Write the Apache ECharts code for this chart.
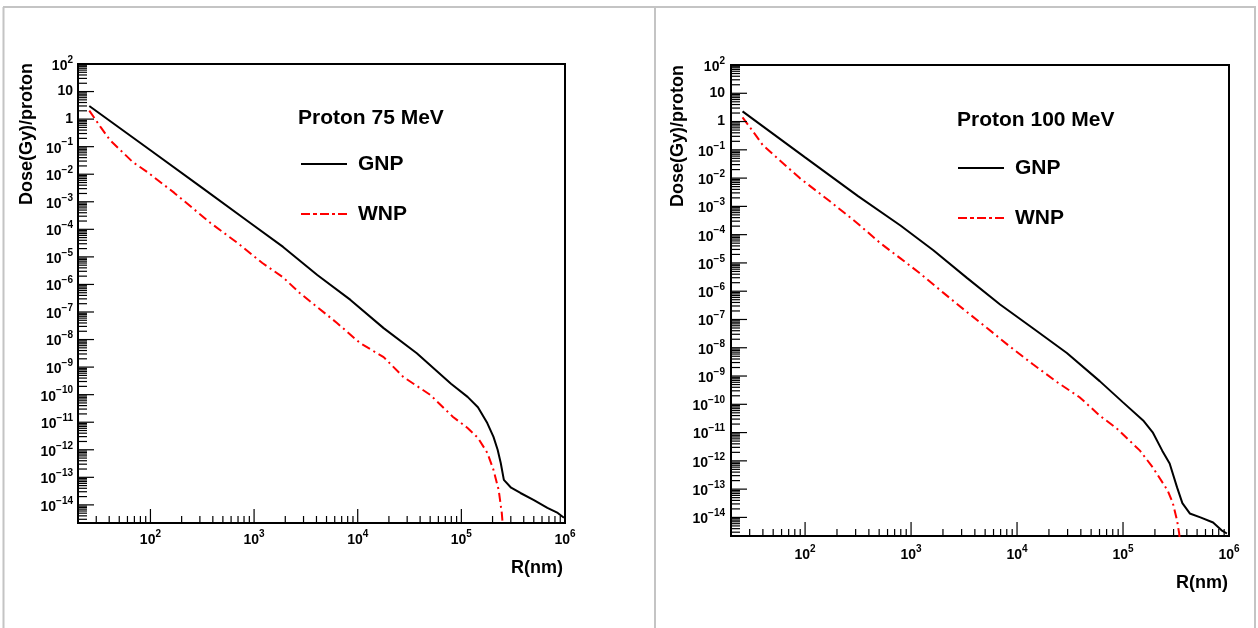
<!DOCTYPE html>
<html><head><meta charset="utf-8">
<script src="https://cdn.jsdelivr.net/npm/echarts@6/dist/echarts.min.js"></script>
<style>html,body{margin:0;padding:0;background:#fff}#c{width:1258px;height:628px}</style>
</head><body><div id="c"></div>
<script>
// ---------- axis ranges & tick labels ----------
const X_MIN = 20, X_MAX = 1e6;
const Y_MIN = 2.2e-15, Y_MAX = 100;
const xMajorTicks = [100, 1000, 10000, 100000, 1000000];
const yMajorTicks = [1e-14, 1e-13, 1e-12, 1e-11, 1e-10, 1e-9, 1e-8, 1e-7, 1e-6, 1e-5, 1e-4, 1e-3, 1e-2, 1e-1, 1, 10, 100];
const minorMultipliers = [2, 3, 4, 5, 6, 7, 8, 9];
const panelTitles = ['Proton 75 MeV', 'Proton 100 MeV'];
const seriesNames = ['GNP', 'WNP'];
const xAxisTitle = 'R(nm)';
const yAxisTitle = 'Dose(Gy)/proton';

// ---------- data: Proton 75 MeV ----------
const gnp75R = [25.7, 100, 316, 912, 1905, 4074, 8511, 17783, 37154, 79433, 114815, 144544, 177828, 204174, 223872, 239883, 257040, 301995, 371535, 501187, 676083, 851138, 977237];
const gnp75D = [3.0, 7.4e-2, 3.2e-3, 1.74e-4, 2.3e-5, 2.2e-6, 2.75e-7, 2.6e-8, 3.2e-9, 2.5e-10, 8.3e-11, 3.5e-11, 9.3e-12, 2.95e-12, 1.0e-12, 3.3e-13, 8.1e-14, 4.2e-14, 2.7e-14, 1.5e-14, 7.8e-15, 5.1e-15, 3.4e-15];
const wnp75R = [25.7, 33.1, 40.7, 67.6, 93.3, 170, 380, 692, 1202, 1905, 2754, 4074, 6310, 10471, 17783, 27542, 50119, 83176, 114815, 144544, 177828, 204174, 229087, 245471, 252000];
const wnp75D = [2.04, 0.51, 0.174, 2.75e-2, 1.2e-2, 2.1e-3, 1.7e-4, 3.2e-5, 6.0e-6, 1.8e-6, 4.9e-7, 1.5e-7, 4.0e-8, 7.6e-9, 2.3e-9, 4.4e-10, 9.8e-11, 1.55e-11, 6.2e-12, 2.7e-12, 7.8e-13, 1.86e-13, 3.5e-14, 5.1e-15, 1.5e-15];

// ---------- data: Proton 100 MeV ----------
const gnp100R = [25.7, 100, 316, 794, 1622, 3388, 6918, 14125, 29512, 60256, 100000, 154882, 190546, 234423, 275423, 323594, 363078, 426580, 537032, 707946, 851138, 954993];
const gnp100D = [2.29, 5.4e-2, 2.3e-3, 2.1e-4, 2.8e-5, 2.9e-6, 3.4e-7, 4.9e-8, 6.5e-9, 6.6e-10, 1.17e-10, 2.7e-11, 1.02e-11, 2.3e-12, 8.1e-13, 1.15e-13, 3.2e-14, 1.38e-14, 1.0e-14, 6.6e-15, 3.5e-15, 2.7e-15];
const wnp100R = [25.7, 32.4, 39.8, 67.6, 89.1, 174, 309, 513, 794, 1202, 1995, 3388, 5248, 8511, 14125, 23988, 38905, 60256, 87096, 144544, 190546, 263027, 295121, 323594, 338844, 346737];
const wnp100D = [1.41, 0.437, 0.148, 2.5e-2, 1.0e-2, 1.45e-3, 2.6e-4, 5.0e-5, 1.45e-5, 4.4e-6, 9.1e-7, 1.8e-7, 4.9e-8, 1.12e-8, 2.6e-9, 6.0e-10, 1.78e-10, 4.0e-11, 1.41e-11, 2.3e-12, 5.9e-13, 9.1e-14, 3.2e-14, 7.8e-15, 2.7e-15, 1.0e-15];

// ---------- build ----------
const FONT = '"Liberation Sans", Arial, Helvetica, sans-serif';
const zip = (xs, ys) => xs.map((x, i) => [x, ys[i]]);

function allTicks(majors, lo, hi) {
  const out = majors.slice();
  const decades = new Set();
  majors.forEach(m => decades.add(Math.round(Math.log10(m))));
  decades.add(Math.min(...decades) - 1);
  decades.forEach(k => minorMultipliers.forEach(m => {
    const v = m * Math.pow(10, k);
    if (v > lo * 1.0001 && v < hi * 0.9999) out.push(v);
  }));
  return out;
}
const xTicks = allTicks(xMajorTicks, X_MIN, X_MAX);
const yTicks = allTicks(yMajorTicks, Y_MIN, Y_MAX);

function powLabel(v) {
  const e = Math.log10(v), r = Math.round(e);
  if (Math.abs(e - r) > 1e-3) return '';
  if (r === 0) return '{b|1}';
  if (r === 1) return '{b|10}';
  return '{b|10}{s|' + (r < 0 ? '\u2212' + (-r) : r) + '}';
}
const labelRich = {
  b: { fontSize: 14, fontWeight: 'bold', fontFamily: FONT, fill: '#000', color: '#000', verticalAlign: 'bottom' },
  s: { fontSize: 10, fontWeight: 'bold', fontFamily: FONT, fill: '#000', color: '#000', verticalAlign: 'bottom', padding: [0, 0, 8, 0] }
};

function tickSeries(idx, axis, values) {
  return {
    type: 'custom', xAxisIndex: idx, yAxisIndex: idx, silent: true, z: 5, clip: false,
    data: values.map(v => axis === 'y' ? [X_MIN, v] : [v, Y_MIN]),
    renderItem(params, api) {
      const x = api.value(0), y = api.value(1);
      const p = api.coord([x, y]);
      const v = axis === 'y' ? y : x;
      const e = Math.log10(v);
      const major = Math.abs(e - Math.round(e)) < 1e-6;
      const len = axis === 'y' ? (major ? 16 : 9) : (major ? 14 : 7);
      const shape = axis === 'y'
        ? { x1: p[0], y1: p[1], x2: p[0] + len, y2: p[1] }
        : { x1: p[0], y1: p[1], x2: p[0], y2: p[1] - len };
      return { type: 'line', shape, style: { stroke: '#000', lineWidth: 1.2 } };
    }
  };
}

function labelSeries(idx, axis, values, gap) {
  return {
    type: 'custom', xAxisIndex: idx, yAxisIndex: idx, silent: true, z: 6, clip: false,
    data: values.map(v => axis === 'y' ? [X_MIN, v] : [v, Y_MIN]),
    renderItem(params, api) {
      const x = api.value(0), y = api.value(1);
      const p = api.coord([x, y]);
      const v = axis === 'y' ? y : x;
      return {
        type: 'text',
        x: axis === 'y' ? p[0] - gap : p[0],
        y: axis === 'y' ? p[1] : p[1] + gap,
        style: {
          text: powLabel(v), rich: labelRich, fill: '#000',
          font: 'bold 14px ' + FONT,
          align: axis === 'y' ? 'right' : 'center',
          verticalAlign: axis === 'y' ? 'middle' : 'top'
        }
      };
    }
  };
}

const grids = [
  { left: 78, top: 64, width: 487, height: 459 },
  { left: 731, top: 65, width: 498, height: 471 }
];
const labelGaps = [{ x: 6, y: 5 }, { x: 8, y: 6 }];
const panels = [
  { gnp: zip(gnp75R, gnp75D), wnp: zip(wnp75R, wnp75D) },
  { gnp: zip(gnp100R, gnp100D), wnp: zip(wnp100R, wnp100D) }
];

const solidIcon = 'path://M0,0h46v2h-46z';
const dashDotIcon = 'path://M0,0h9v2h-9zM12,0h4v2h-4zM19,0h9v2h-9zM31,0h3v2h-3zM37,0h9v2h-9z';
const titleStyle = { fontSize: 21, fontWeight: 'bold', fontFamily: FONT, color: '#000' };

const option = {
  animation: false,
  backgroundColor: '#fff',
  grid: grids.map(g => Object.assign({ show: true, borderColor: '#000', borderWidth: 2, backgroundColor: 'transparent' }, g)),
  xAxis: grids.map((g, i) => ({
    type: 'log', logBase: 10, gridIndex: i, min: X_MIN, max: X_MAX,
    axisLine: { show: false }, axisTick: { show: false }, splitLine: { show: false }, axisLabel: { show: false }
  })),
  yAxis: grids.map((g, i) => ({
    type: 'log', logBase: 10, gridIndex: i, min: Y_MIN, max: Y_MAX,
    axisLine: { show: false }, axisTick: { show: false }, splitLine: { show: false }, axisLabel: { show: false }
  })),
  title: [
    { text: panelTitles[0], left: 298, top: 108, padding: 0, textStyle: titleStyle },
    { text: panelTitles[1], left: 957, top: 110, padding: 0, textStyle: titleStyle }
  ],
  legend: [
    { left: 301, top: 152 },
    { left: 958, top: 156 }
  ].map(p => Object.assign({
    data: [{ name: seriesNames[0], icon: solidIcon }, { name: seriesNames[1], icon: dashDotIcon }],
    orient: 'vertical', itemWidth: 46, itemHeight: 2, itemGap: 26, selectedMode: false, padding: 0,
    textStyle: { fontSize: 21, fontWeight: 'bold', fontFamily: FONT, color: '#000', lineHeight: 24, padding: [0, 0, 0, 6] }
  }, p)),
  graphic: [
    { type: 'line', shape: { x1: 3, y1: 7, x2: 1256, y2: 7 }, style: { stroke: '#c4c4c4', lineWidth: 2 }, silent: true },
    { type: 'line', shape: { x1: 3.5, y1: 7, x2: 3.5, y2: 640 }, style: { stroke: '#c4c4c4', lineWidth: 2 }, silent: true },
    { type: 'line', shape: { x1: 655, y1: 7, x2: 655, y2: 640 }, style: { stroke: '#c4c4c4', lineWidth: 2 }, silent: true },
    { type: 'line', shape: { x1: 1255, y1: 7, x2: 1255, y2: 640 }, style: { stroke: '#c4c4c4', lineWidth: 2 }, silent: true },
    { type: 'text', x: 27, y: 63, rotation: Math.PI / 2, style: { text: yAxisTitle, font: 'bold 18px ' + FONT, fill: '#000', align: 'right', verticalAlign: 'middle' } },
    { type: 'text', x: 678, y: 65, rotation: Math.PI / 2, style: { text: yAxisTitle, font: 'bold 18px ' + FONT, fill: '#000', align: 'right', verticalAlign: 'middle' } },
    { type: 'text', x: 563, y: 568, style: { text: xAxisTitle, font: 'bold 18px ' + FONT, fill: '#000', align: 'right', verticalAlign: 'middle' } },
    { type: 'text', x: 1228, y: 583, style: { text: xAxisTitle, font: 'bold 18px ' + FONT, fill: '#000', align: 'right', verticalAlign: 'middle' } }
  ],
  series: []
};

panels.forEach((p, i) => {
  option.series.push({
    name: seriesNames[0], type: 'line', xAxisIndex: i, yAxisIndex: i, data: p.gnp,
    symbol: 'none', showSymbol: false, clip: true, z: 3,
    lineStyle: { color: '#000', width: 2 }, itemStyle: { color: '#000' }
  });
  option.series.push({
    name: seriesNames[1], type: 'line', xAxisIndex: i, yAxisIndex: i, data: p.wnp,
    symbol: 'none', showSymbol: false, clip: true, z: 3,
    lineStyle: { color: '#ff0000', width: 2, type: [9, 4, 2, 4] }, itemStyle: { color: '#ff0000' }
  });
  option.series.push(tickSeries(i, 'x', xTicks));
  option.series.push(tickSeries(i, 'y', yTicks));
  option.series.push(labelSeries(i, 'x', xMajorTicks, labelGaps[i].x));
  option.series.push(labelSeries(i, 'y', yMajorTicks, labelGaps[i].y));
});

const chart = echarts.init(document.getElementById('c'), null, { renderer: 'canvas' });
chart.setOption(option);
</script></body></html>
